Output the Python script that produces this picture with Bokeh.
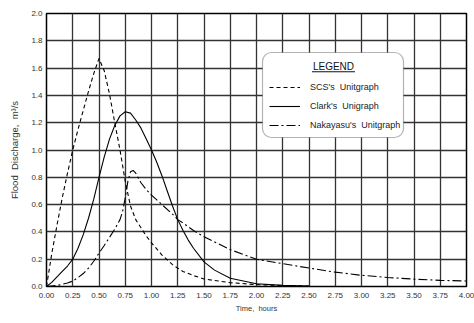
from bokeh.plotting import figure
from bokeh.models import (Range1d, FixedTicker, NumeralTickFormatter, Legend,
                          LegendItem, BoxAnnotation, Label)
from bokeh.embed import file_html
from bokeh.resources import INLINE

# ---- data ----
t_scs = [0, 0.05, 0.1, 0.15, 0.2, 0.25, 0.3, 0.35, 0.4, 0.45, 0.5, 0.55, 0.6, 0.65,
         0.7, 0.75, 0.8, 0.85, 0.9, 0.95, 1.0, 1.1, 1.2, 1.3, 1.4, 1.5, 1.75, 2.0,
         2.25, 2.5]
q_scs = [0, 0.24, 0.45, 0.65, 0.83, 1.0, 1.15, 1.29, 1.43, 1.56, 1.67, 1.58, 1.41,
         1.2, 1.0, 0.77, 0.59, 0.49, 0.43, 0.37, 0.32, 0.23, 0.16, 0.11, 0.08,
         0.055, 0.028, 0.014, 0.007, 0.003]

t_clark = [0, 0.05, 0.1, 0.15, 0.2, 0.25, 0.3, 0.35, 0.4, 0.45, 0.5, 0.55, 0.6,
           0.65, 0.7, 0.75, 0.8, 0.85, 0.9, 0.95, 1.0, 1.05, 1.1, 1.15, 1.2, 1.25,
           1.3, 1.35, 1.4, 1.5, 1.6, 1.75, 2.0, 2.25, 2.5]
q_clark = [0, 0.03, 0.07, 0.11, 0.15, 0.2, 0.28, 0.38, 0.5, 0.64, 0.8, 0.95, 1.08,
           1.18, 1.25, 1.28, 1.27, 1.22, 1.16, 1.08, 1.0, 0.91, 0.81, 0.70, 0.59,
           0.49, 0.41, 0.34, 0.28, 0.18, 0.12, 0.06, 0.02, 0.008, 0.003]

t_naka = [0, 0.1, 0.2, 0.25, 0.3, 0.35, 0.4, 0.45, 0.5, 0.55, 0.6, 0.65, 0.7, 0.725,
          0.75, 0.775, 0.8, 0.825, 0.85, 0.9, 0.95, 1.0, 1.1, 1.2, 1.25, 1.3, 1.4,
          1.5, 1.75, 2.0, 2.25, 2.5, 2.75, 3.0, 3.25, 3.5, 3.75, 4.0]
q_naka = [0, 0.008, 0.025, 0.04, 0.065, 0.095, 0.135, 0.185, 0.245, 0.30, 0.36,
          0.42, 0.49, 0.55, 0.65, 0.77, 0.84, 0.85, 0.83, 0.76, 0.71, 0.67, 0.60,
          0.53, 0.49, 0.465, 0.41, 0.365, 0.27, 0.20, 0.167, 0.135, 0.105, 0.082,
          0.066, 0.054, 0.045, 0.04]

x_ticks = [0, 0.25, 0.5, 0.75, 1.0, 1.25, 1.5, 1.75, 2.0, 2.25, 2.5, 2.75, 3.0,
           3.25, 3.5, 3.75, 4.0]
y_ticks = [0, 0.2, 0.4, 0.6, 0.8, 1.0, 1.2, 1.4, 1.6, 1.8, 2.0]

legend_labels = ["SCS's\u00a0\u00a0Unitgraph", "Clark's\u00a0\u00a0Unigraph",
                 "Nakayasu's\u00a0\u00a0Unitgraph"]

FONT = "Liberation Sans"

p = figure(width=474, height=323, x_range=Range1d(0, 4), y_range=Range1d(0, 2),
           output_backend="svg", toolbar_location=None,
           min_border_left=46, min_border_right=8, min_border_top=13,
           min_border_bottom=37)
p.background_fill_color = "white"
p.border_fill_color = "white"
p.outline_line_color = "black"
p.outline_line_width = 1.5

p.xaxis.ticker = FixedTicker(ticks=x_ticks)
p.yaxis.ticker = FixedTicker(ticks=y_ticks)
p.xaxis.formatter = NumeralTickFormatter(format="0.00")
p.yaxis.formatter = NumeralTickFormatter(format="0.0")

for ax in (p.xaxis[0], p.yaxis[0]):
    ax.axis_line_color = None
    ax.major_tick_line_color = None
    ax.minor_tick_line_color = None
    ax.major_tick_out = 0
    ax.major_tick_in = 0
    ax.major_label_text_font = FONT
    ax.major_label_text_font_size = "8px"
    ax.major_label_text_color = "#333333"
    ax.axis_label_text_font = FONT
    ax.axis_label_text_font_style = "normal"
    ax.axis_label_text_color = "#333333"

p.xaxis.axis_label = "Time,\u00a0\u00a0hours"
p.xaxis.axis_label_text_font_size = "7.5px"
p.xaxis.major_label_standoff = 6
p.xaxis.axis_label_standoff = 3

p.yaxis.axis_label = "Flood\u00a0\u00a0Discharge,\u00a0\u00a0m\u00b3/s"
p.yaxis.axis_label_text_font_size = "9.5px"
p.yaxis.major_label_standoff = 4
p.yaxis.axis_label_standoff = 8

p.grid.grid_line_color = "#333333"
p.grid.grid_line_width = 1.3

r_scs = p.line(t_scs, q_scs, line_color="black", line_width=1.1, line_dash="4 3")
r_clark = p.line(t_clark, q_clark, line_color="black", line_width=1.1)
r_naka = p.line(t_naka, q_naka, line_color="black", line_width=1.1,
                line_dash="9 3 2 3")

# legend frame (screen units relative to the plot frame)
box = BoxAnnotation(left=216, right=357, bottom=149, top=234,
                    left_units="screen", right_units="screen",
                    bottom_units="screen", top_units="screen",
                    fill_color="white", fill_alpha=1.0, line_color="black",
                    line_width=1.2, border_radius=9)
p.add_layout(box)

title = Label(x=287, y=220.5, x_units="screen", y_units="screen", text="LEGEND",
              text_align="center", text_baseline="middle", text_font=FONT,
              text_font_size="10px", text_color="#111111")
p.add_layout(title)
underline = BoxAnnotation(left=265.5, right=308.5, bottom=214.3, top=215.3,
                          left_units="screen", right_units="screen",
                          bottom_units="screen", top_units="screen",
                          fill_color="#111111", fill_alpha=1.0, line_color=None)
p.add_layout(underline)

legend = Legend(items=[LegendItem(label=legend_labels[0], renderers=[r_scs]),
                       LegendItem(label=legend_labels[1], renderers=[r_clark]),
                       LegendItem(label=legend_labels[2], renderers=[r_naka])],
                location=(223, 155), border_line_color=None,
                background_fill_alpha=0, padding=0, margin=0, spacing=7,
                glyph_width=31, glyph_height=12, label_height=12,
                label_standoff=10, label_text_font=FONT,
                label_text_font_size="9px", label_text_color="#222222")
p.add_layout(legend)

open("out.html", "w").write(file_html(p, INLINE))
